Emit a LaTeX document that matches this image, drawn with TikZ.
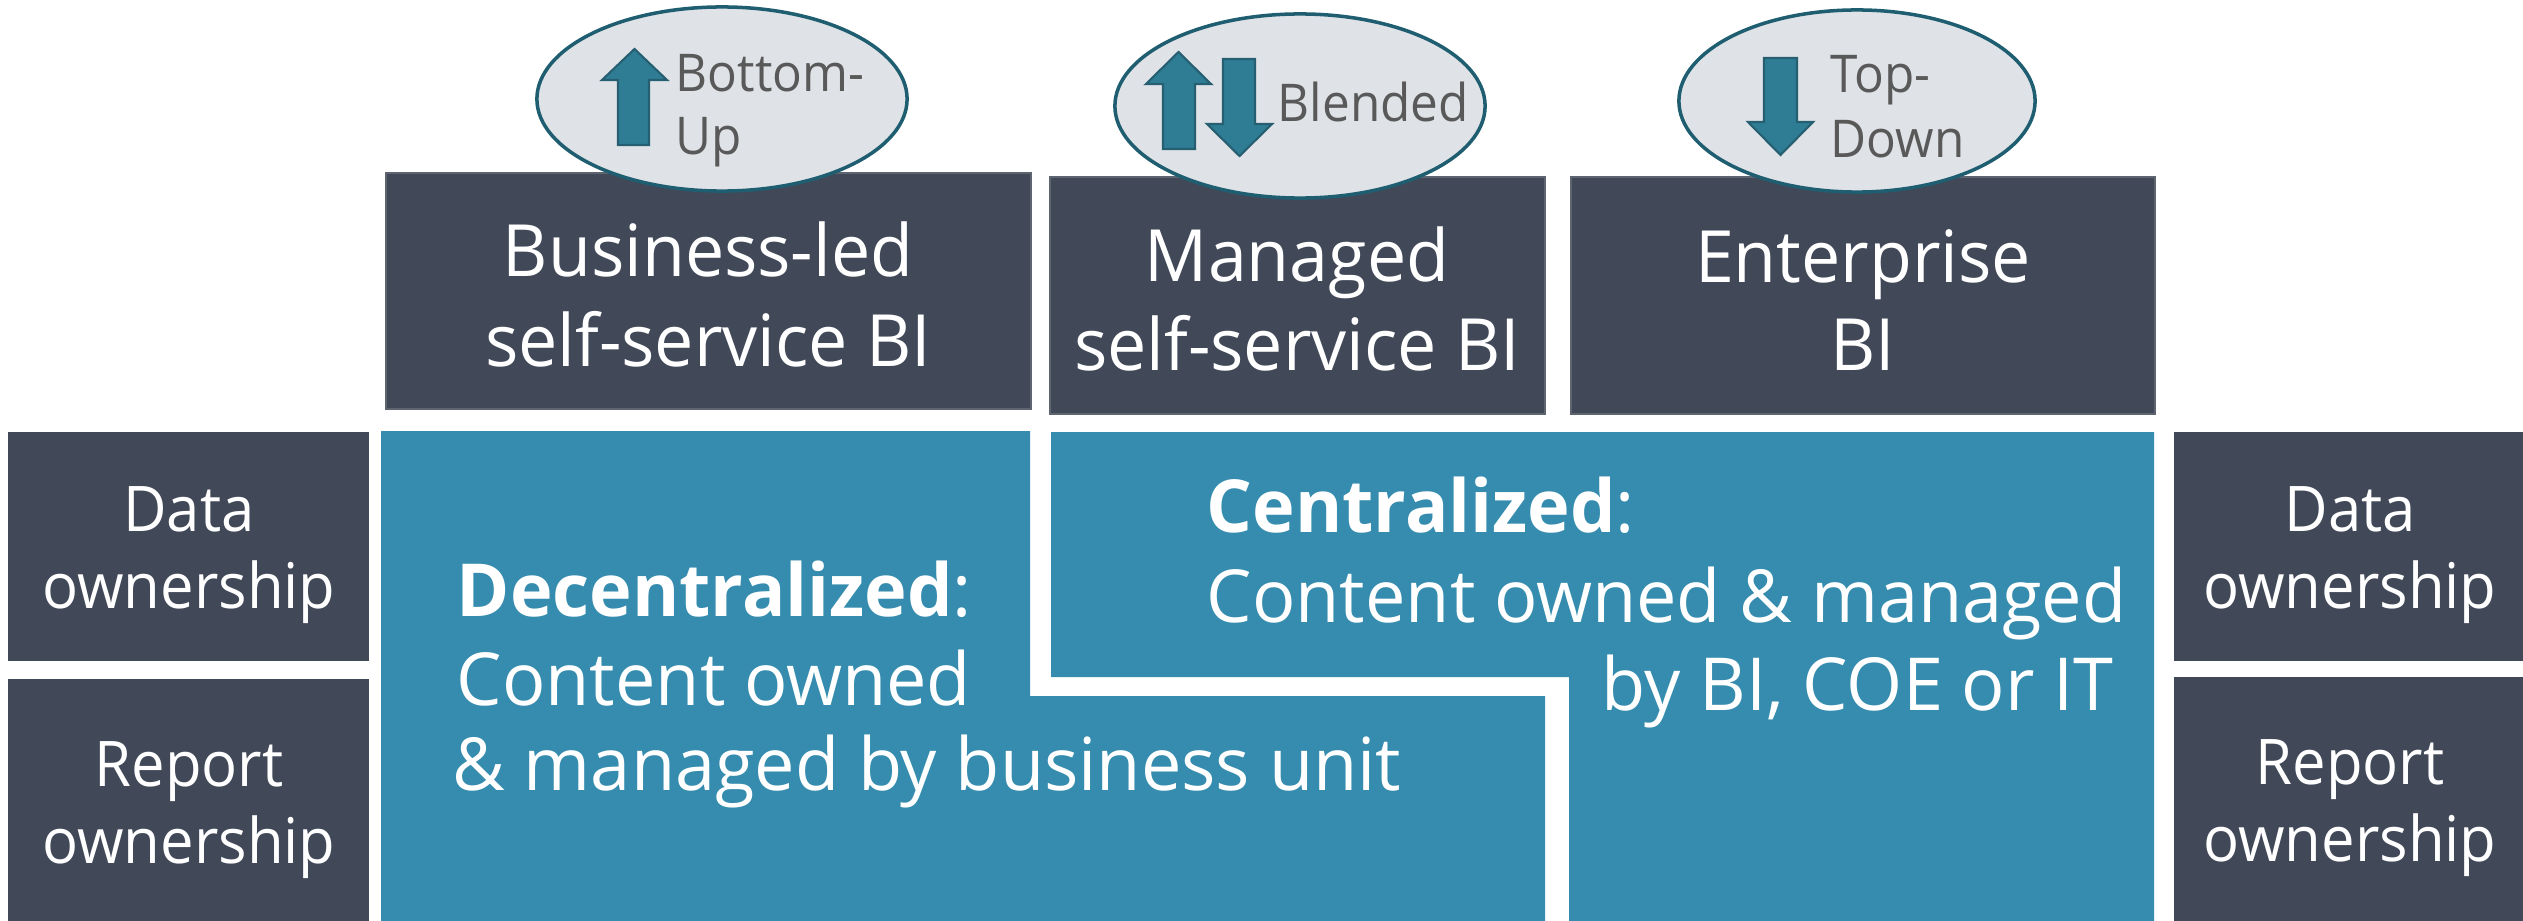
\documentclass[tikz,border=0pt]{standalone}
\usepackage{fontspec}
\setmainfont[FakeStretch=0.95]{Open Sans}
\newfontfamily\topfam[FakeStretch=0.97]{Open Sans}
\newfontfamily\lowfam[FakeStretch=0.985]{Open Sans}
\usetikzlibrary{shapes.geometric,fit}
\definecolor{slate}{HTML}{414858}
\definecolor{slateedge}{HTML}{5E6470}
\definecolor{tealfill}{HTML}{358CAE}
\definecolor{ellfill}{HTML}{DFE2E6}
\definecolor{elledge}{HTML}{1F5E70}
\definecolor{arrfill}{HTML}{2F7D94}
\definecolor{arredge}{HTML}{265F71}
\definecolor{greytext}{HTML}{595959}
\newcommand{\bigtxt}{\topfam\fontsize{20.5}{25}\selectfont}
\newcommand{\lowtxt}{\lowfam\fontsize{20.8}{25}\selectfont}
\newcommand{\midtxt}{\fontsize{17.9}{22}\selectfont}
\newcommand{\smalltxt}{\fontsize{14.8}{18}\selectfont}
\tikzset{
  darkbox/.style={fill=slate, draw=slateedge, line width=0.6pt, inner sep=0pt},
  ownbox/.style={fill=slate, draw=none, inner sep=0pt},
  tealshape/.style={fill=tealfill, draw=none},
  oval/.style={ellipse, fill=ellfill, draw=elledge, line width=1pt, inner sep=0pt, minimum width=3.70cm, minimum height=1.84cm},
  arrowshape/.style={fill=arrfill, draw=arredge, line width=0.6pt, line join=miter},
  wtxt/.style={text=white, inner sep=0pt, anchor=base},
  gtxt/.style={text=greytext, inner sep=0pt, anchor=base west, font=\smalltxt},
}
\begin{document}
\begin{tikzpicture}[x=0.01cm,y=-0.01cm]
\useasboundingbox (0,0) rectangle (2523,921);
\fill[white] (0,0) rectangle (2523,921);

% top boxes
\node[darkbox, fit={(386,173) (1031,409)}] (b1) {};
\node[darkbox, fit={(1050,177) (1545,414)}] (b2) {};
\node[darkbox, fit={(1571,177) (2155,414)}] (b3) {};

\node[wtxt, font=\bigtxt] (b1a) at (708,276) {Business-led};
\node[wtxt, font=\bigtxt] (b1b) at (708,366) {self-service BI};
\node[wtxt, font=\bigtxt] (b2a) at (1297,281) {Managed};
\node[wtxt, font=\bigtxt] (b2b) at (1297,370) {self-service BI};
\node[wtxt, font=\bigtxt] (b3a) at (1863,282) {Enterprise};
\node[wtxt, font=\bigtxt] (b3b) at (1863,370) {BI};

% ovals
\node[oval] (e1) at (722,99) {};
\node[oval] (e2) at (1300,106) {};
\node[oval, minimum width=3.56cm, minimum height=1.82cm] (e3) at (1857,101) {};

% arrows
\draw[arrowshape] (618,145) -- (618,80) -- (602,80) -- (634.5,49) -- (667,80) -- (649,80) -- (649,145) -- cycle;
\draw[arrowshape] (1163,149) -- (1163,84) -- (1146,84) -- (1178.5,52) -- (1211,84) -- (1195,84) -- (1195,149) -- cycle;
\draw[arrowshape] (1223,59) -- (1223,124) -- (1207,124) -- (1239.5,156) -- (1272,124) -- (1255,124) -- (1255,59) -- cycle;
\draw[arrowshape] (1764,58) -- (1764,122) -- (1748,122) -- (1780.5,155) -- (1813,122) -- (1797,122) -- (1797,58) -- cycle;

\node[gtxt] (e1a) at (675,91) {Bottom-};
\node[gtxt] (e1b) at (675,154) {Up};
\node[gtxt] (e2a) at (1277,121) {Blended};
\node[gtxt] (e3a) at (1830,93) {Top-};
\node[gtxt] (e3b) at (1830,157) {Down};

% lower teal shapes
\fill[tealshape] (381,431) -- (1030,431) -- (1030,696) -- (1545,696) -- (1545,921) -- (381,921) -- cycle;
\fill[tealshape] (1051,432) -- (2154,432) -- (2154,921) -- (1569,921) -- (1569,677) -- (1051,677) -- cycle;

\node[wtxt, anchor=base west, font=\lowtxt] (d1) at (456,616) {\bfseries Decentralized\mdseries:};
\node[wtxt, anchor=base west, font=\lowtxt] (d2) at (456,705) {Content owned};
\node[wtxt, anchor=base west, font=\lowtxt] (d3) at (452,790) {\& managed by business unit};

\node[wtxt, anchor=base west, font=\lowtxt] (c1) at (1206,532) {\bfseries Centralized\mdseries:};
\node[wtxt, anchor=base west, font=\lowtxt] (c2) at (1206,622) {Content owned \& managed};
\node[wtxt, anchor=base east, font=\lowtxt] (c3) at (2114,710) {by BI, COE or IT};

% ownership boxes
\node[ownbox, fit={(8,432) (369,661)}] (l1) {};
\node[ownbox, fit={(8,679) (369,921)}] (l2) {};
\node[ownbox, fit={(2174,432) (2523,661)}] (r1) {};
\node[ownbox, fit={(2174,677) (2523,921)}] (r2) {};

\node[wtxt, font=\midtxt] (l1a) at (189,531) {Data};
\node[wtxt, font=\midtxt] (l1b) at (189,608) {ownership};
\node[wtxt, font=\midtxt] (l2a) at (189,786) {Report};
\node[wtxt, font=\midtxt] (l2b) at (189,863) {ownership};
\node[wtxt, font=\midtxt] (r1a) at (2350,531) {Data};
\node[wtxt, font=\midtxt] (r1b) at (2350,608) {ownership};
\node[wtxt, font=\midtxt] (r2a) at (2350,784) {Report};
\node[wtxt, font=\midtxt] (r2b) at (2350,861) {ownership};
\end{tikzpicture}
\end{document}
